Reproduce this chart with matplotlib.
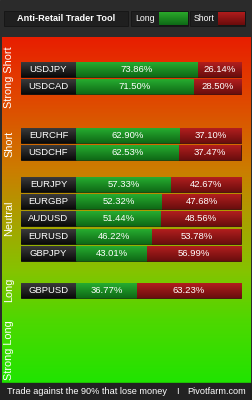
import numpy as np
import matplotlib
matplotlib.use("Agg")
import matplotlib.pyplot as plt
from matplotlib.patches import Rectangle
from matplotlib.colors import LinearSegmentedColormap

plt.rcParams['font.family'] = ['Liberation Sans', 'DejaVu Sans']

# data
sections = ["Strong Short", "Short", "Neutral", "Long", "Strong Long"]
pairs_strong_short = ["USDJPY", "USDCAD"]
pairs_short = ["EURCHF", "USDCHF"]
pairs_neutral = ["EURJPY", "EURGBP", "AUDUSD", "EURUSD", "GBPJPY"]
pairs_long = ["GBPUSD"]
pairs_strong_long = []
long_pct = [73.86, 71.50, 62.90, 62.53, 57.33, 52.32, 51.44, 46.22, 43.01, 36.77]
short_pct = [26.14, 28.50, 37.10, 37.47, 42.67, 47.68, 48.56, 53.78, 56.99, 63.23]
title = "Anti-Retail Trader Tool"
footer_left = "Trade against the 90% that lose money"
footer_right = "Pivotfarm.com"

W, H = 253, 400
fig = plt.figure(figsize=(W / 100, H / 100), dpi=100)
ax = fig.add_axes([0, 0, 1, 1])

# bar region in pixels: x 76..241 -> 0..100 percent
x0, x1 = 76, 241
sc = (x1 - x0) / 100.0
ax.set_xlim(-x0 / sc, (W - x0) / sc)
ax.set_ylim(H, 0)
ax.axis('off')

def px(x):
    return (x - x0) / sc

# frame
ax.add_patch(Rectangle((px(0), 0), W / sc, H, color='#2b2b2b', zorder=0))

# background gradient
bg = LinearSegmentedColormap.from_list('bg', [
    (0.0, '#e81e00'), (0.18, '#e04800'), (0.38, '#cc7c00'),
    (0.5, '#b09a00'), (0.68, '#84c400'), (0.82, '#4ed800'), (1.0, '#20e400')])
grad = np.linspace(0, 1, 256).reshape(-1, 1)
ax.imshow(grad, cmap=bg, aspect='auto', extent=(px(2), px(251), 383, 37), zorder=1)

# header
def boxed(xa, xb, ya, yb, fc='#1f1f1f'):
    ax.add_patch(Rectangle((px(xa), ya), (xb - xa) / sc, yb - ya, facecolor=fc,
                           edgecolor='#151515', lw=0.6, zorder=2))

boxed(4, 128, 11, 26)
ax.text(px(66), 18.5, title, color='white', fontsize=6.6, fontweight='bold',
        ha='center', va='center', zorder=3)
boxed(131, 188, 11, 26)
ax.text(px(145), 18.5, "Long", color='white', fontsize=6.3, ha='center', va='center', zorder=3)
boxed(190, 245, 11, 26)
ax.text(px(204), 18.5, "Short", color='white', fontsize=6.3, ha='center', va='center', zorder=3)

def grad_patch(p, top, bottom):
    cm = LinearSegmentedColormap.from_list('g', [top, bottom])
    x, y = p.get_x(), p.get_y()
    w, h = p.get_width(), p.get_height()
    im = ax.imshow(np.linspace(0, 1, 32).reshape(-1, 1), cmap=cm, aspect='auto',
                   extent=(x, x + w, y + h, y), zorder=p.get_zorder() + 0.1)
    im.set_clip_path(p)

boxed(159, 188, 12, 25)
grad_patch(ax.patches[-1], '#2aa82a', '#0e6a16')
boxed(218, 245, 12, 25)
grad_patch(ax.patches[-1], '#b01c1c', '#6a0c0c')

# footer
ax.add_patch(Rectangle((px(0), 383), W / sc, 17, color='#222222', zorder=2))
ax.text(px(7), 392, footer_left, color='white', fontsize=6.6, ha='left', va='center', zorder=3)
ax.text(px(177), 392, "I", color='white', fontsize=6.6, ha='center', va='center', zorder=3)
ax.text(px(246), 392, footer_right, color='white', fontsize=6.6, ha='right', va='center', zorder=3)

# rows
groups = [pairs_strong_short, pairs_short, pairs_neutral, pairs_long, pairs_strong_long]
group_top = [62, 128, 177, 283, 0]
label_y = [77, 144, 218, 290, 350]
row_h, row_step = 15, 17.2
names, ys = [], []
for g, top in zip(groups, group_top):
    for k, n in enumerate(g):
        names.append(n)
        ys.append(top + k * row_step + row_h / 2)

for s, ly in zip(sections, label_y):
    ax.text(px(9), ly, s, color='white', fontsize=7.8, rotation=90,
            ha='center', va='center', zorder=3)

lab = ax.barh(ys, [(x0 - 21) / sc] * len(ys), left=px(21), height=row_h,
              color='#1e1e1e', edgecolor='#0c0c0c', lw=0.6, zorder=2)
gbars = ax.barh(ys, long_pct, left=0, height=row_h, color='#1f9a26',
                edgecolor='#0f3d10', lw=0.6, zorder=2)
rbars = ax.barh(ys, short_pct, left=long_pct, height=row_h, color='#9a1a1a',
                edgecolor='#3d0c0c', lw=0.6, zorder=2)
for p in lab:
    grad_patch(p, '#3a3a3a', '#0a0a0a')
for p in gbars:
    grad_patch(p, '#26ac30', '#0f6a16')
for p in rbars:
    grad_patch(p, '#b21e1e', '#6a0e0e')

for n, y, lv, sv in zip(names, ys, long_pct, short_pct):
    ax.text(px(48.5), y, n, color='white', fontsize=6.8, ha='center', va='center', zorder=4)
    ax.text(lv / 2, y, f"{lv:.2f}%", color='white', fontsize=6.8, ha='center', va='center', zorder=4)
    ax.text(lv + sv / 2, y, f"{sv:.2f}%", color='white', fontsize=6.8, ha='center', va='center', zorder=4)

fig.savefig("out.png", dpi=100)
